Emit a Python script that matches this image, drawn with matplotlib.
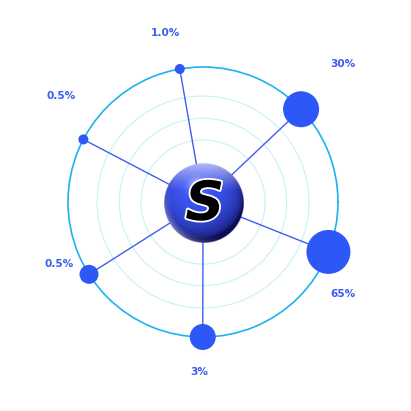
import numpy as np
import matplotlib
matplotlib.use('Agg')
from matplotlib import pyplot as plt
import matplotlib.patheffects as pe

# data
labels = ['1.0%', '30%', '65%', '3%', '0.5%', '0.5%']
values = [1.0, 30, 65, 3, 0.5, 0.5]
center_letter = 'S'

# layout / style
angles_deg = [99.9, 43.4, -21.7, -90.1, 212.4, 152.4]
node_radius_px = [5, 18, 22, 13, 9.5, 5]
label_offsets_px = [(-14, 36), (42, 45), (15, -42), (-4, -35), (-30, 10), (-22, 43)]
rings = [0.46, 0.62, 0.785]

node_color = '#2e57f7'
spoke_color = '#3f5df2'
text_color = '#3a5cf0'
ring_color = '#c6f2f6'
outer_color = '#1fb2f0'

W = 411
fig = plt.figure(figsize=(W / 100, W / 100), dpi=100)
fig.patch.set_facecolor('white')

cx, cy, R = 203 / W, 1 - 202 / W, 135 / W
ax = fig.add_axes([cx - R, cy - R, 2 * R, 2 * R], projection='polar')
ax.set_ylim(0, 1)
ax.set_xticks([])
ax.set_yticks(rings)
ax.set_yticklabels([])
ax.yaxis.grid(True, color=ring_color, lw=0.8)
ax.xaxis.grid(False)
ax.tick_params(length=0)
ax.spines['polar'].set_color(outer_color)
ax.spines['polar'].set_linewidth(1.2)
ax.set_facecolor('none')

theta = np.radians(angles_deg)
for t in theta:
	ax.plot([t, t], [0, 1], color=spoke_color, lw=1.0, zorder=3, solid_capstyle='butt')

sizes = [(2 * r * 0.72) ** 2 for r in node_radius_px]
ax.scatter(theta, np.ones(len(theta)), s=sizes, color=node_color, edgecolors='none',
	zorder=4, clip_on=False)

for t, lab, off in zip(theta, labels, label_offsets_px):
	ax.annotate(lab, xy=(t, 1), xytext=off, textcoords='offset pixels',
		ha='center', va='center', fontsize=7.6, fontweight='bold',
		family='DejaVu Sans', color=text_color, annotation_clip=False)

# central sphere
sx, sy, sr = 204 / W, 1 - 203 / W, 40 / W
bx = fig.add_axes([sx - sr, sy - sr, 2 * sr, 2 * sr])
bx.set_xlim(-1, 1)
bx.set_ylim(-1, 1)
bx.axis('off')

N = 300
g = np.linspace(-1, 1, N)
X, Y = np.meshgrid(g, g)
r = np.sqrt(X ** 2 + Y ** 2)
Z = np.sqrt(np.clip(1 - r ** 2, 0, 1))
L = np.array([-0.2, 0.45, 0.87])
L = L / np.linalg.norm(L)
d = np.clip(X * L[0] + Y * L[1] + Z * L[2], 0, 1)

dark = np.array([0.05, 0.05, 0.32])
mid = np.array([0.24, 0.34, 0.97])
light = np.array([0.84, 0.84, 1.0])
col = dark + (mid - dark) * (d[..., None] ** 0.55)
top = np.clip((Y - 0.3) / 0.7, 0, 1) ** 1.2 * 0.8
col = col + (light - col) * top[..., None]
spec = d ** 50
col = col + (1 - col) * spec[..., None] * 0.5
rim = np.clip((r - 0.8) / 0.2, 0, 1) ** 1.5 * np.clip(0.5 - Y, 0, 1) * np.clip(0.4 - X, 0, 1)
col = col + (np.array([0.7, 0.7, 0.92]) - col) * (rim[..., None] * 0.7)
alpha = np.clip((1 - r) * N / 2, 0, 1)
img = np.dstack([np.clip(col, 0, 1), alpha])
bx.imshow(img, extent=[-1, 1, -1, 1], origin='lower', interpolation='bilinear')

bx.text(0.02, -0.05, center_letter, ha='center', va='center', fontsize=39,
	fontweight='heavy', style='italic', family='DejaVu Sans', color='black',
	path_effects=[pe.withStroke(linewidth=2.6, foreground='white')])

plt.savefig('out.png', dpi=100, facecolor='white')
